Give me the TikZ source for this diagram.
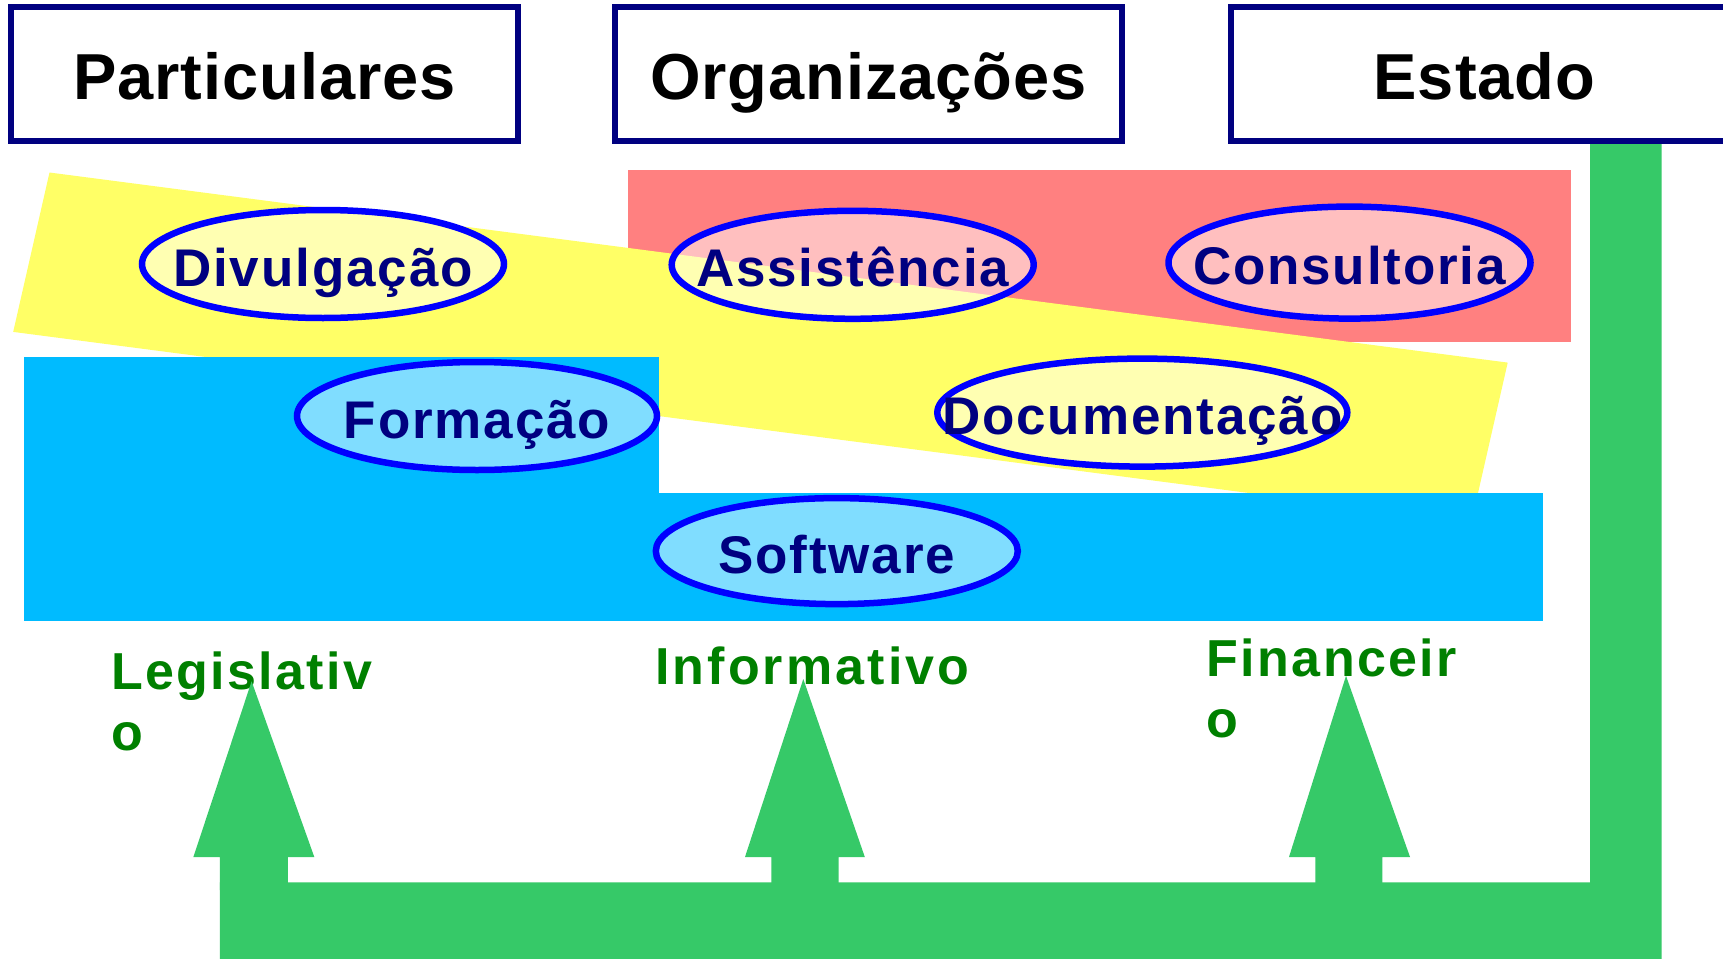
\documentclass[tikz,border=0pt]{standalone}
\usepackage{fontspec}
\setmainfont{Liberation Sans}
\newfontfamily\tfont{Liberation Sans}[LetterSpace=1.5]
\newfontfamily\efont{Liberation Sans}[LetterSpace=3.5]
\newfontfamily\gfont{Liberation Sans}[LetterSpace=4.5]
\usetikzlibrary{shapes.geometric}
\definecolor{navy}{RGB}{0,0,128}
\definecolor{ylw}{RGB}{255,255,102}
\definecolor{rd}{RGB}{255,128,128}
\definecolor{cy}{RGB}{0,187,255}
\definecolor{grn}{RGB}{54,201,104}
\definecolor{dgreen}{RGB}{0,128,0}
\definecolor{eblue}{RGB}{0,0,255}
\tikzset{
  titlebox/.style={draw=navy, line width=6pt, fill=white, minimum width=507pt, minimum height=134pt,
    inner sep=0pt, text height=50pt, text depth=0pt, font=\tfont\bfseries\fontsize{65}{78}\selectfont, text=black},
  bub/.style={ellipse, draw=eblue, line width=6.5pt, fill=white, fill opacity=0.5, inner sep=0pt},
  etext/.style={inner sep=0pt, text height=44pt, text depth=0pt, text=navy,
    font=\efont\bfseries\fontsize{53}{64}\selectfont},
  glabel/.style={inner sep=0pt, text=dgreen, align=left, anchor=base west,
    font=\gfont\bfseries\fontsize{52}{61}\selectfont},
  flow/.style={fill=grn, draw=none}
}
\begin{document}
\begin{tikzpicture}[x=1pt,y=-1pt]
\useasboundingbox (0,0) rectangle (1723,958);
\clip (0,0) rectangle (1723,958);
\fill[white] (0,0) rectangle (1723,958);
% background areas
\fill[rd] (627.5,170.3) rectangle (1571.4,341.8);
\fill[ylw] (49.5,172.5) -- (1507.7,362.6) -- (1471.4,522) -- (13.2,331.9) -- cycle;
\fill[cy] (24.2,357.1) rectangle (659.3,620.9);
\fill[cy] (24.2,493.4) rectangle (1542.9,620.9);
% green flow
\fill[flow] (1590,141) -- (1661.5,141) -- (1661.5,965) -- (219.8,965) -- (219.8,882.4) -- (1590,882.4) -- cycle;
% title boxes
\node[titlebox] (part) at (264.5,74) {Particulares};
\node[titlebox] (org) at (868.5,74) {Organizações};
\node[titlebox] (est) at (1484.5,74) {Estado};
% ellipses
\node[bub, minimum width=362pt, minimum height=108pt] (divb) at (323,264) {};
\node[etext] (div) at (divb.center) {Divulgação};
\node[bub, minimum width=362pt, minimum height=108pt] (assb) at (852.7,264.8) {};
\node[etext] (ass) at (assb.center) {Assistência};
\node[bub, minimum width=362pt, minimum height=112pt] (conb) at (1349.5,262.6) {};
\node[etext] (con) at (conb.center) {Consultoria};
\node[bub, minimum width=360pt, minimum height=108pt] (forb) at (477,416) {};
\node[etext] (for) at (forb.center) {Formação};
\node[bub, minimum width=410pt, minimum height=108pt] (docb) at (1142.3,412.6) {};
\node[etext] (doc) at (docb.center) {Documentação};
\node[bub, minimum width=362pt, minimum height=106pt] (sofb) at (836.8,551.1) {};
\node[etext] (sof) at (sofb.center) {Software};
% green labels
\node[glabel] (leg) at (111,750.6) {Legislativ\\o};
\node[glabel, font=\gfont\bfseries\fontsize{52}{61}\selectfont\addfontfeature{LetterSpace=6}] (inf) at (655,684.6) {Informativo};
\node[glabel] (fin) at (1206.6,737) {Financeir\\o};
% arrows
\coordinate (legtip) at (251.6,681.3);
\coordinate (inftip) at (803.3,679);
\coordinate (fintip) at (1346,675.8);
\fill[flow] (219.8,890) -- (219.8,857) -- (193.4,857) -- (legtip) -- (314.3,857) -- (287.9,857) -- (287.9,890) -- cycle;
\fill[flow] (771.4,890) -- (771.4,857) -- (745,857) -- (inftip) -- (864.8,857) -- (838.5,857) -- (838.5,890) -- cycle;
\fill[flow] (1315.4,890) -- (1315.4,857) -- (1289,857) -- (fintip) -- (1410,857) -- (1382.4,857) -- (1382.4,890) -- cycle;
\end{tikzpicture}
\end{document}
